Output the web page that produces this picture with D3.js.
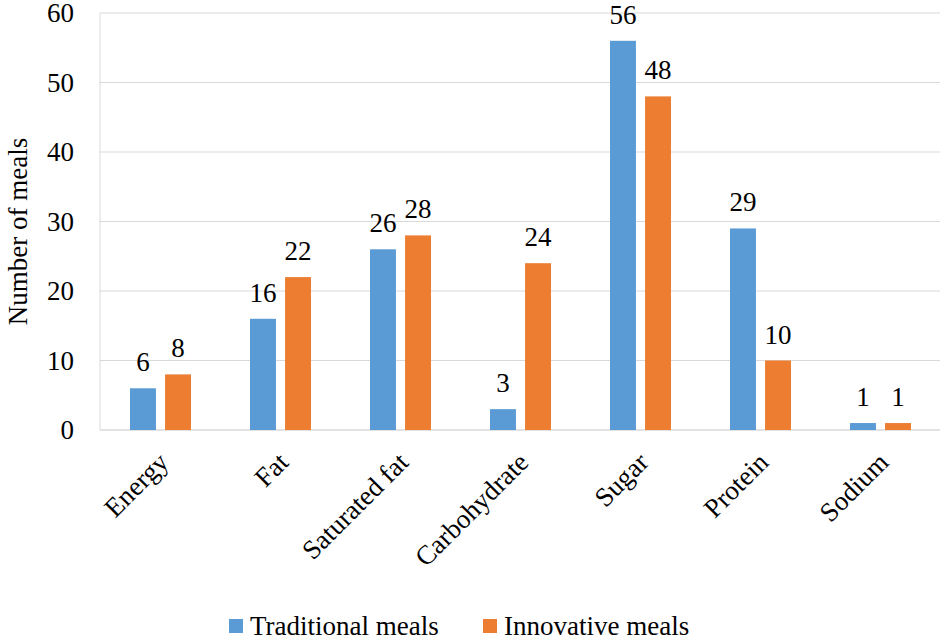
<!DOCTYPE html>
<html>
<head>
<meta charset="utf-8">
<script src="https://cdn.jsdelivr.net/npm/d3@7"></script>
</head>
<body style="margin:0">
<div id="chart"></div>
<script>
const categories = ["Energy", "Fat", "Saturated fat", "Carbohydrate", "Sugar", "Protein", "Sodium"];
const traditional = [6, 16, 26, 3, 56, 29, 1];
const innovative = [8, 22, 28, 24, 48, 10, 1];
const seriesNames = ["Traditional meals", "Innovative meals"];
const yTicks = [0, 10, 20, 30, 40, 50, 60];

const W = 941, H = 643;
const margin = { top: 13, right: 1, bottom: 213, left: 100 },
  width = W - margin.left - margin.right,
  height = H - margin.top - margin.bottom;

const colors = ["#5B9BD5", "#ED7D31"];

const root = d3.select("#chart")
  .append("svg")
  .attr("width", W)
  .attr("height", H);

const x = d3.scaleBand().domain(categories).range([margin.left, margin.left + width]);
const xs = d3.scaleBand().domain(seriesNames).range([30, 91]).paddingInner(0.26);
const y = d3.scaleLinear().domain([0, 60]).range([margin.top + height, margin.top]);

// gridlines
root.append("g")
  .selectAll("line")
  .data(yTicks)
  .enter()
  .append("line")
  .attr("x1", margin.left).attr("x2", margin.left + width)
  .attr("y1", d => y(d)).attr("y2", d => y(d))
  .attr("stroke", "#d9d9d9")
  .attr("stroke-width", d => d === 0 ? 1.5 : 1);

root.append("line")
  .attr("x1", margin.left).attr("x2", margin.left)
  .attr("y1", y(60)).attr("y2", y(0))
  .attr("stroke", "#d9d9d9");

// bars
categories.forEach((c, i) => {
  [traditional[i], innovative[i]].forEach((v, j) => {
    root.append("rect")
      .attr("x", x(c) + xs(seriesNames[j]))
      .attr("width", xs.bandwidth())
      .attr("y", y(v))
      .attr("height", y(0) - y(v))
      .attr("fill", colors[j]);
  });
});

// legend swatches
const legendX = [229, 483];
root.selectAll(".sw")
  .data(seriesNames)
  .enter()
  .append("rect")
  .attr("x", (d, i) => legendX[i]).attr("y", 619)
  .attr("width", 14).attr("height", 14)
  .attr("fill", (d, i) => colors[i]);

// all texts, flat in the svg
const texts = [];
yTicks.forEach(t => texts.push({ t: String(t), x: margin.left - 26, y: y(t) + 9, a: "end", r: 0 }));
texts.push({ t: "Number of meals", x: 27, y: margin.top + height / 2 + 10, a: "middle", r: -90 });
categories.forEach((c, i) => {
  [traditional[i], innovative[i]].forEach((v, j) => {
    texts.push({ t: String(v), x: x(c) + xs(seriesNames[j]) + xs.bandwidth() / 2, y: y(v) - 17, a: "middle", r: 0 });
  });
  texts.push({ t: c, x: x(c) + x.bandwidth() / 2 + 10, y: y(0) + 34, a: "end", r: -45 });
});
seriesNames.forEach((n, i) => texts.push({ t: n, x: legendX[i] + 21, y: 635, a: "start", r: 0 }));

root.selectAll(".lbl")
  .data(texts)
  .enter()
  .append("text")
  .attr("x", d => d.x)
  .attr("y", d => d.y)
  .attr("transform", d => d.r ? `rotate(${d.r},${d.x},${d.y})` : null)
  .attr("text-anchor", d => d.a)
  .style("font-family", d => '"Times New Roman"')
  .style("font-size", "27px")
  .text(d => d.t);
</script>
</body>
</html>
